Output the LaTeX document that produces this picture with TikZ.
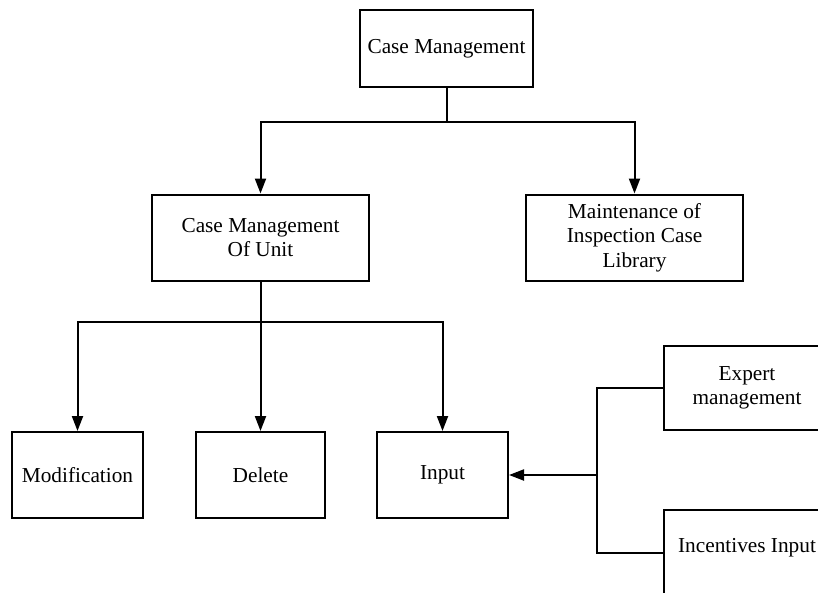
\documentclass[tikz,border=0pt]{standalone}
\usepackage{fontspec}
\setmainfont{Liberation Serif}
\usetikzlibrary{arrows.meta}
\begin{document}
\begin{tikzpicture}[x=1pt,y=-1pt,
  box/.style={draw, line width=2pt, align=center, inner sep=0pt,
    font=\fontsize{21.3}{24.5}\selectfont},
  conn/.style={line width=2pt},
  arr/.style={conn, -{Triangle[length=15pt,width=11pt]}}]
\useasboundingbox (0,0) rectangle (818,592);
\clip (0,0) rectangle (818,592);
\node[box, minimum width=173pt, minimum height=77pt] (cm) at (446.5,48.5) {Case Management};
\node[box, minimum width=217pt, minimum height=86pt] (cmou) at (260.5,237.5) {Case Management\\Of Unit};
\node[box, minimum width=217pt, minimum height=86pt] (maint) at (634.5,237.5) {Maintenance of\\Inspection Case\\Library};
\node[box, minimum width=131pt, minimum height=86pt] (mod) at (77.5,475) {Modification};
\node[box, minimum width=129pt, minimum height=86pt] (del) at (260.5,475) {Delete};
\node[box, minimum width=131pt, minimum height=86pt] (inp) at (442.5,475) {Input};
\node[box, minimum width=166pt, minimum height=84pt] (exp) at (747,388) {Expert\\management};
\node[box, minimum width=166pt, minimum height=86pt, text depth=16pt] (inc) at (747,553) {Incentives Input};
\coordinate (j1) at (446.5,122);
\coordinate (j2) at (260.5,322);
\coordinate (j3) at (597,475);
\draw[conn] (cm.south) -- (j1);
\draw[arr] (j1) -| (cmou.north);
\draw[arr] (j1) -| (maint.north);
\draw[conn] (cmou.south) -- (j2);
\draw[arr] (j2) -| (mod.north);
\draw[arr] (j2) -- (del.north);
\draw[arr] (j2) -| (inp.north);
\draw[conn] (exp.west) -| (j3) |- (inc.west);
\draw[arr] (j3) -- (inp.east);
\end{tikzpicture}
\end{document}
